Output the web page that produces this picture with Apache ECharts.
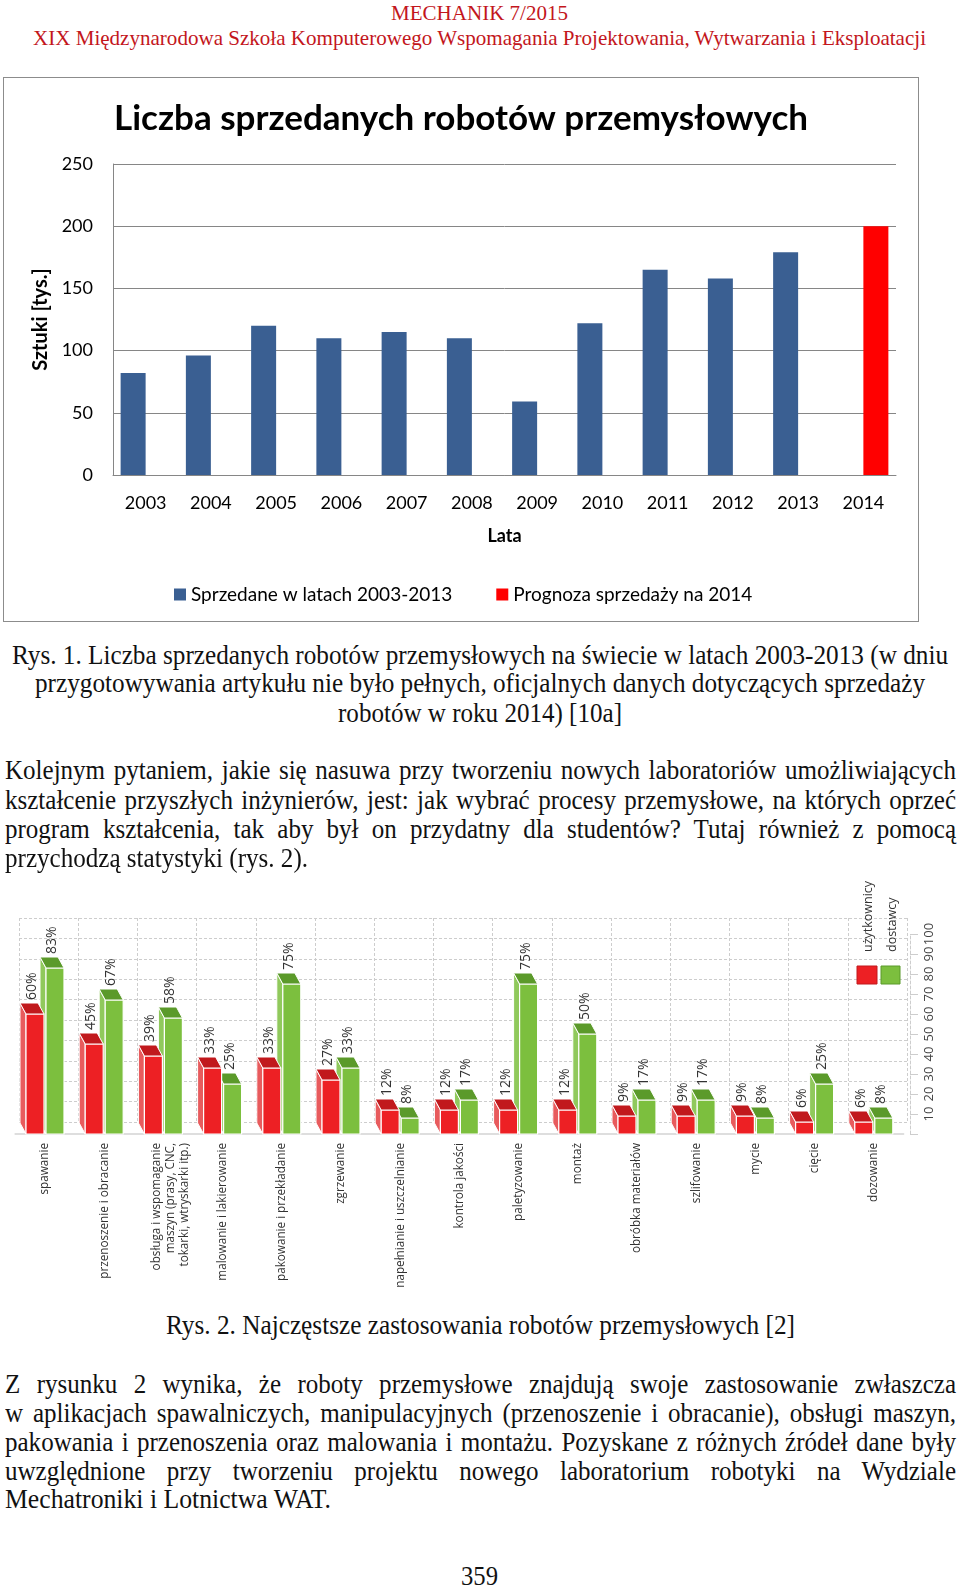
<!DOCTYPE html>
<html><head><meta charset="utf-8">
<script src="https://cdn.jsdelivr.net/npm/echarts@6/dist/echarts.min.js"></script>
<style>
html,body{margin:0;padding:0;background:#fff;}
body{width:960px;height:1590px;position:relative;overflow:hidden;}
.ln{position:absolute;white-space:pre;font-family:'Liberation Serif','Times New Roman',serif;color:#111;line-height:1;}
#c1box{position:absolute;left:3px;top:77px;width:916px;height:545px;border:1px solid #8c8c8c;box-sizing:border-box;background:#fff;}
#c1{position:absolute;left:0;top:0;width:914px;height:543px;}
#c2{position:absolute;left:0;top:870px;width:960px;height:430px;}
</style></head><body>
<div id="c1box"><div id="c1"></div></div>
<div id="c2"></div>
<script>
// ---------- Chart 1 data ----------
const years = ['2003','2004','2005','2006','2007','2008','2009','2010','2011','2012','2013','2014'];
const soldValues = [82, 96, 120, 110, 115, 110, 59, 122, 165, 158, 179, null];
const forecastValues = [null, null, null, null, null, null, null, null, null, null, null, 200];
const seriesNames1 = ['Sprzedane w latach 2003-2013', 'Prognoza sprzedaży na 2014'];

// ---------- Chart 2 data ----------
const categories = ['spawanie', 'przenoszenie i obracanie', 'obsługa i wspomaganie\nmaszyn (prasy, CNC,\ntokarki, wtryskarki itp.)',
  'malowanie i lakierowanie', 'pakowanie i przekładanie', 'zgrzewanie', 'napełnianie i uszczelnianie', 'kontrola jakości',
  'paletyzowanie', 'montaż', 'obróbka materiałów', 'szlifowanie', 'mycie', 'cięcie', 'dozowanie'];
const usersPct = [60, 45, 39, 33, 33, 27, 12, 12, 12, 12, 9, 9, 9, 6, 6];
const suppliersPct = [83, 67, 58, 25, 75, 33, 8, 17, 75, 50, 17, 17, 8, 25, 8];
const seriesNames2 = ['użytkownicy', 'dostawcy'];

// ---------- page text ----------
const BODY = 27.5, SX = 0.91;
const pageLines = [
  {t:'MECHANIK 7/2015', x0:391, x1:568, cy:14.5, size:22, color:'#c3161c', mode:'fit'},
  {t:'XIX Międzynarodowa Szkoła Komputerowego Wspomagania Projektowania, Wytwarzania i Eksploatacji', x0:33, x1:926, cy:39, size:22, color:'#c3161c', mode:'fit'},
  {t:'Rys. 1. Liczba sprzedanych robotów przemysłowych na świecie w latach 2003-2013 (w dniu', x0:12, x1:948, cy:656, size:BODY, mode:'fit'},
  {t:'przygotowywania artykułu nie było pełnych, oficjalnych danych dotyczących sprzedaży', x0:35, x1:925, cy:684.5, size:BODY, mode:'fit'},
  {t:'robotów w roku 2014) [10a]', x0:338, x1:622, cy:714, size:BODY, mode:'fit'},
  {t:'Kolejnym pytaniem, jakie się nasuwa przy tworzeniu nowych laboratoriów umożliwiających', x0:5, x1:956, cy:771.5, size:BODY, mode:'justify'},
  {t:'kształcenie przyszłych inżynierów, jest: jak wybrać procesy przemysłowe, na których oprzeć', x0:5, x1:956, cy:801, size:BODY, mode:'justify'},
  {t:'program kształcenia, tak aby był on przydatny dla studentów? Tutaj również z pomocą', x0:5, x1:956, cy:830, size:BODY, mode:'justify'},
  {t:'przychodzą statystyki (rys. 2).', x0:5, x1:308, cy:859, size:BODY, mode:'fit'},
  {t:'Rys. 2. Najczęstsze zastosowania robotów przemysłowych [2]', x0:166, x1:795, cy:1326, size:BODY, mode:'fit'},
  {t:'Z rysunku 2 wynika, że roboty przemysłowe znajdują swoje zastosowanie zwłaszcza', x0:5, x1:956, cy:1385, size:BODY, mode:'justify'},
  {t:'w aplikacjach spawalniczych, manipulacyjnych (przenoszenie i obracanie), obsługi maszyn,', x0:5, x1:956, cy:1414, size:BODY, mode:'justify'},
  {t:'pakowania i przenoszenia oraz malowania i montażu. Pozyskane z różnych źródeł dane były', x0:5, x1:956, cy:1443, size:BODY, mode:'justify'},
  {t:'uwzględnione przy tworzeniu projektu nowego laboratorium robotyki na Wydziale', x0:5, x1:956, cy:1472, size:BODY, mode:'justify'},
  {t:'Mechatroniki i Lotnictwa WAT.', x0:5, x1:331, cy:1500.5, size:BODY, mode:'fit'},
  {t:'359', x0:461, x1:498, cy:1577, size:28, mode:'fit'}
];

function place(o){
  const el = document.createElement('div');
  el.className = 'ln';
  el.textContent = o.t;
  el.style.fontSize = o.size + 'px';
  if (o.color) el.style.color = o.color;
  document.body.appendChild(el);
  const w = el.getBoundingClientRect().width;
  el.style.left = o.x0 + 'px';
  el.style.top = (o.cy - o.size * 0.55) + 'px';
  el.style.transformOrigin = '0 0';
  const tw = o.x1 - o.x0;
  if (o.mode === 'justify') {
    const n = (o.t.match(/ /g) || []).length;
    el.style.wordSpacing = ((tw / SX - w) / n) + 'px';
    el.style.transform = 'scaleX(' + SX + ')';
  } else if (o.mode === 'fit') {
    el.style.transform = 'scaleX(' + (tw / w) + ')';
  }
}
pageLines.forEach(place);

// ---------- Chart 1 ----------
const F1 = "Lato, 'Open Sans', sans-serif";
const c1 = echarts.init(document.getElementById('c1'));
c1.setOption({
  animation: false,
  backgroundColor: '#fff',
  textStyle: {fontFamily: F1},
  title: {text: 'Liczba sprzedanych robotów przemysłowych', left: 'center', top: 18,
    textStyle: {fontFamily: F1, fontWeight: 'bold', fontSize: 35, color: '#000'}},
  grid: {left: 109, top: 86, width: 783, height: 311},
  legend: {left: 165, top: 502, itemWidth: 12, itemHeight: 12, itemGap: 44, icon: 'rect',
    textStyle: {fontFamily: F1, fontSize: 19, color: '#000'}, data: seriesNames1},
  xAxis: {type: 'category', data: years,
    axisLine: {lineStyle: {color: '#868686'}}, axisTick: {show: false},
    axisLabel: {color: '#000', fontSize: 18, margin: 19, fontFamily: F1},
    name: 'Lata', nameLocation: 'middle', nameGap: 52,
    nameTextStyle: {fontWeight: 'bold', fontSize: 18, color: '#000', fontFamily: F1}},
  yAxis: {type: 'value', min: 0, max: 250, interval: 50,
    axisLine: {show: true, lineStyle: {color: '#868686'}}, axisTick: {show: false},
    splitLine: {lineStyle: {color: '#868686'}},
    axisLabel: {color: '#000', fontSize: 18, margin: 20, fontFamily: F1},
    name: 'Sztuki [tys.]', nameLocation: 'middle', nameGap: 59,
    nameTextStyle: {fontWeight: 'bold', fontSize: 20, color: '#000', fontFamily: F1}},
  series: [
    {name: seriesNames1[0], type: 'bar', data: soldValues, barWidth: 25, barGap: '0%', itemStyle: {color: '#3a5f92'}},
    {name: seriesNames1[1], type: 'bar', data: forecastValues, barWidth: 25, barGap: '0%', itemStyle: {color: '#ff0000'}}
  ]
});

// ---------- Chart 2 ----------
const F2 = "'Open Sans', Lato, sans-serif";
const RED = {front: '#ed2024', side: '#e85b5d', top: '#c1191d'};
const GREEN = {front: '#7cbf3e', side: '#90c95c', top: '#5b9a2a'};
function box3d(side, col){
  return function(params, api){
    const i = api.value(0), v = api.value(1);
    const top = api.coord([i, v]), base = api.coord([i, 0]);
    const cx = top[0];
    const x0 = side < 0 ? cx - 19 : cx + 1, x1 = x0 + 18;
    const dx = -6, dy = -11, yt = top[1], yb = base[1];
    return {type: 'group', children: [
      {type: 'polygon', shape: {points: [[x0, yt], [x0 + dx, yt + dy], [x0 + dx, yb + dy], [x0, yb]]},
        style: {fill: col.side, stroke: '#fff', lineWidth: 1}},
      {type: 'rect', shape: {x: x0, y: yt, width: x1 - x0, height: yb - yt},
        style: {fill: col.front, stroke: '#fff', lineWidth: 1.2}},
      {type: 'polygon', shape: {points: [[x0, yt], [x1, yt], [x1 + dx, yt + dy], [x0 + dx, yt + dy]]},
        style: {fill: col.top, stroke: '#fff', lineWidth: 1}},
      {type: 'text', x: (x0 + x1) / 2 + dx / 2, y: yt + dy - 3, rotation: Math.PI / 2,
        style: {text: v + '%', fill: '#333', font: "14px 'Open Sans'", align: 'left', textAlign: 'left',
          verticalAlign: 'middle', textVerticalAlign: 'middle'}}
    ]};
  };
}
const c2 = echarts.init(document.getElementById('c2'));
c2.setOption({
  animation: false,
  backgroundColor: '#fff',
  textStyle: {fontFamily: F2},
  grid: [
    {left: 19, top: 48, width: 888, height: 204},
    {left: 15.4, top: 64, width: 888, height: 200}
  ],
  xAxis: [
    {type: 'category', gridIndex: 0, data: categories, axisLine: {show: false}, axisTick: {show: false, interval: 0},
      axisLabel: {show: false, interval: 0}, splitLine: {show: true, interval: 0, lineStyle: {type: [3, 2], color: '#cdcdcd'}}},
    {type: 'category', gridIndex: 1, data: categories,
      axisLine: {show: true, lineStyle: {color: '#dedede', width: 2}}, axisTick: {show: false},
      axisLabel: {interval: 0, rotate: 90, margin: 9, fontSize: 11.7, lineHeight: 14, color: '#333', fontFamily: F2,
        formatter: function(v){ return v.indexOf('\n') >= 0 ? '\n' + v : v; }},
      splitLine: {show: false}}
  ],
  yAxis: [
    {type: 'value', gridIndex: 0, min: 0, max: 100, interval: 10, axisLine: {show: false}, axisTick: {show: false},
      axisLabel: {show: false}, splitLine: {show: true, lineStyle: {type: [3, 2], color: '#cdcdcd'}}},
    {type: 'value', gridIndex: 1, min: 0, max: 100, interval: 10, position: 'right', offset: 6.6,
      axisLine: {show: true, lineStyle: {color: '#cdcdcd', type: [3, 2]}},
      axisTick: {show: true, length: 8, lineStyle: {color: '#cdcdcd'}},
      axisLabel: {rotate: 90, margin: 13, fontSize: 13, color: '#444', fontFamily: F2,
        formatter: function(v){ return v === 0 ? '' : String(v); }},
      splitLine: {show: false}}
  ],
  graphic: [
    {type: 'rect', z: 100, x: 857, y: 96, shape: {width: 20, height: 18}, style: {fill: RED.front, stroke: RED.top, lineWidth: 1}},
    {type: 'rect', z: 100, x: 881, y: 96, shape: {width: 19, height: 18}, style: {fill: GREEN.front, stroke: GREEN.top, lineWidth: 1}},
    {type: 'text', z: 100, x: 868, y: 82, rotation: Math.PI / 2,
      style: {text: seriesNames2[0], fill: '#333', font: "12.5px 'Open Sans'", align: 'left', textAlign: 'left', verticalAlign: 'middle', textVerticalAlign: 'middle'}},
    {type: 'text', z: 100, x: 892, y: 82, rotation: Math.PI / 2,
      style: {text: seriesNames2[1], fill: '#333', font: "12.5px 'Open Sans'", align: 'left', textAlign: 'left', verticalAlign: 'middle', textVerticalAlign: 'middle'}}
  ],
  series: [
    {name: seriesNames2[1], type: 'custom', xAxisIndex: 1, yAxisIndex: 1,
      data: suppliersPct.map(function(v, i){ return [i, v]; }), renderItem: box3d(1, GREEN)},
    {name: seriesNames2[0], type: 'custom', xAxisIndex: 1, yAxisIndex: 1,
      data: usersPct.map(function(v, i){ return [i, v]; }), renderItem: box3d(-1, RED)}
  ]
});
</script>
</body></html>
